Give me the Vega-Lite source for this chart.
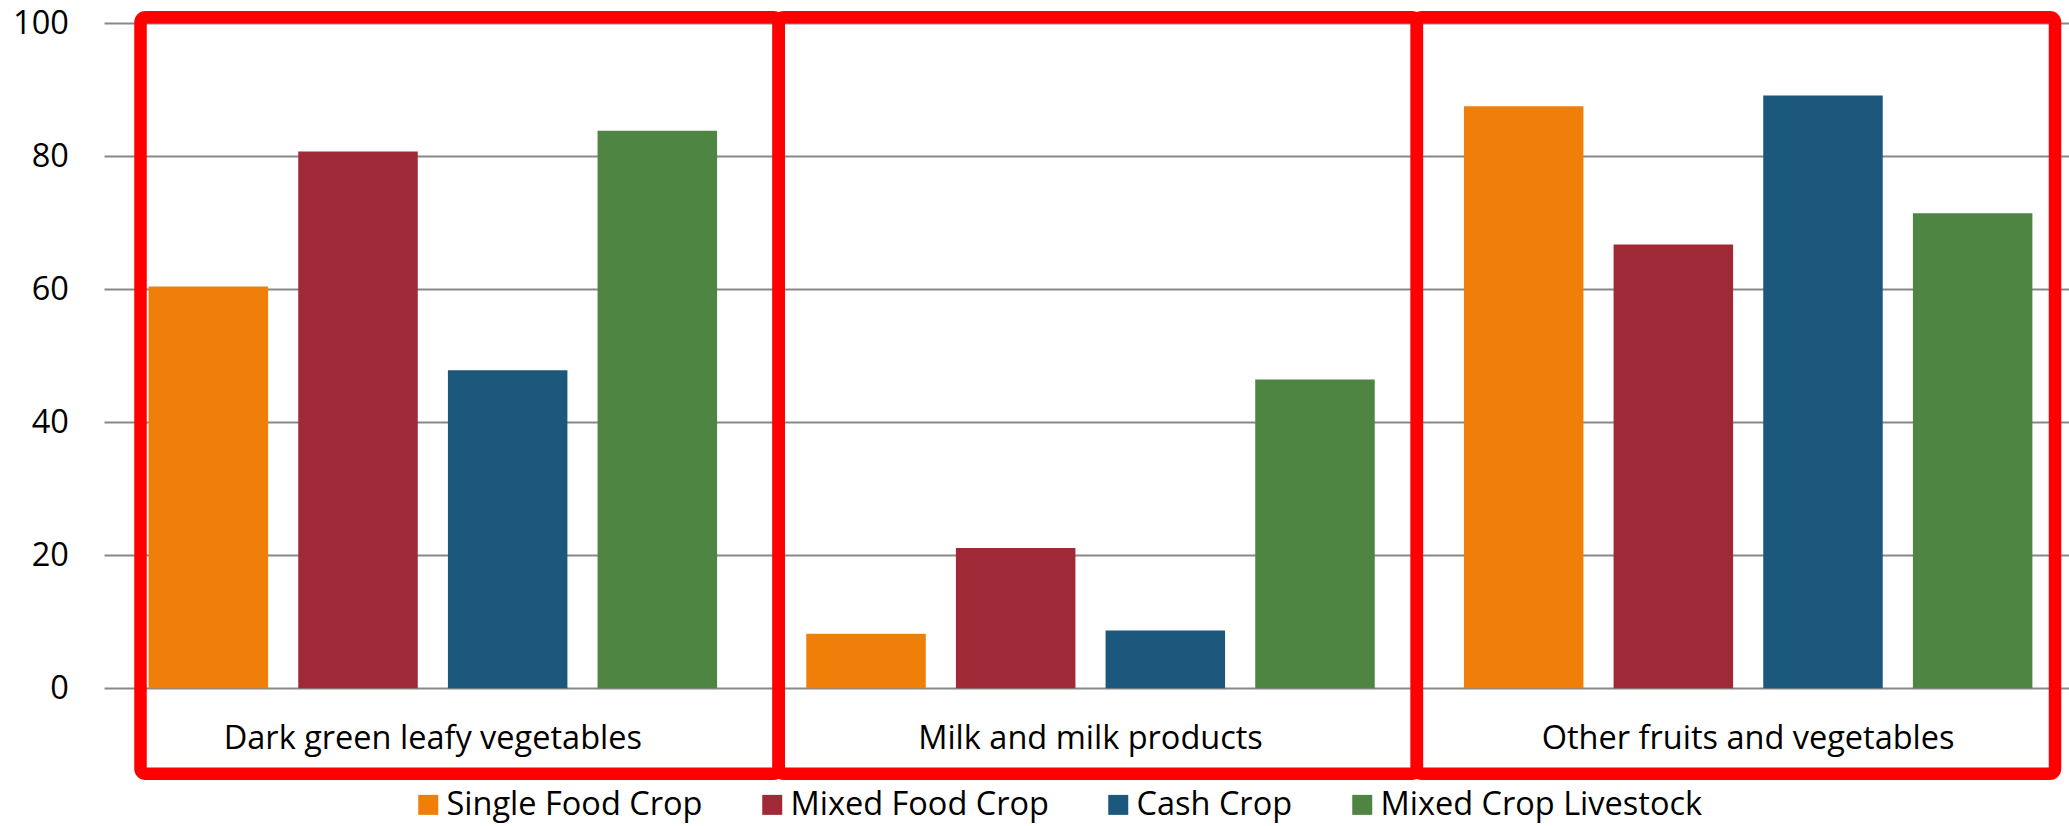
{
  "$schema": "https://vega.github.io/schema/vega-lite/v6.json",
  "autosize": "none",
  "width": 1965,
  "height": 665.3,
  "padding": {"left": 104, "top": 23, "right": 0, "bottom": 137.7},
  "background": "white",
  "config": {
    "view": {"stroke": null},
    "font": "Open Sans",
    "axis": {"labelFont": "Open Sans", "labelColor": "#000000"},
    "legend": {"labelFont": "Open Sans", "labelColor": "#000000"}
  },
  "datasets": {
    "bars": [
      {"category": "Dark green leafy vegetables", "type": "Single Food Crop", "value": 60.4},
      {"category": "Dark green leafy vegetables", "type": "Mixed Food Crop", "value": 80.7},
      {"category": "Dark green leafy vegetables", "type": "Cash Crop", "value": 47.8},
      {"category": "Dark green leafy vegetables", "type": "Mixed Crop Livestock", "value": 83.8},
      {"category": "Milk and milk products", "type": "Single Food Crop", "value": 8.2},
      {"category": "Milk and milk products", "type": "Mixed Food Crop", "value": 21.1},
      {"category": "Milk and milk products", "type": "Cash Crop", "value": 8.7},
      {"category": "Milk and milk products", "type": "Mixed Crop Livestock", "value": 46.4},
      {"category": "Other fruits and vegetables", "type": "Single Food Crop", "value": 87.5},
      {"category": "Other fruits and vegetables", "type": "Mixed Food Crop", "value": 66.7},
      {"category": "Other fruits and vegetables", "type": "Cash Crop", "value": 89.1},
      {"category": "Other fruits and vegetables", "type": "Mixed Crop Livestock", "value": 71.4}
    ],
    "boxes": [
      {"category": "Dark green leafy vegetables"},
      {"category": "Milk and milk products"},
      {"category": "Other fruits and vegetables"}
    ]
  },
  "layer": [
    {
      "data": {"name": "bars"},
      "mark": {"type": "bar"},
      "encoding": {
        "x": {
          "field": "category", "type": "nominal", "sort": null,
          "scale": {"range": [0, 1973], "paddingInner": 0, "paddingOuter": 0},
          "axis": {"title": null, "labelAngle": 0, "ticks": false, "domain": false, "grid": false, "labelFontSize": 32.5, "labelPadding": 34, "labelLimit": 0}
        },
        "xOffset": {
          "field": "type", "type": "nominal",
          "sort": ["Single Food Crop", "Mixed Food Crop", "Cash Crop", "Mixed Crop Livestock"],
          "scale": {"paddingInner": 0.2015, "paddingOuter": 0.298}
        },
        "y": {
          "field": "value", "type": "quantitative",
          "scale": {"domain": [0, 100], "nice": false},
          "axis": {"title": null, "values": [0, 20, 40, 60, 80, 100], "grid": true, "gridColor": "#888888", "gridWidth": 2, "ticks": false, "domain": false, "labelFontSize": 32.5, "labelPadding": 35.7}
        },
        "color": {
          "field": "type", "type": "nominal",
          "scale": {
            "domain": ["Single Food Crop", "Mixed Food Crop", "Cash Crop", "Mixed Crop Livestock"],
            "range": ["#F07F09", "#9F2936", "#1B587C", "#4E8542"]
          },
          "legend": {
            "title": null, "orient": "none", "direction": "horizontal",
            "legendX": 308, "legendY": 765.5, "padding": 0,
            "symbolType": "square", "symbolSize": 400, "symbolStrokeWidth": 0,
            "labelFontSize": 32.5, "labelOffset": 2, "columnPadding": 53, "labelLimit": 0
          }
        }
      }
    },
    {
      "data": {"name": "boxes"},
      "mark": {"type": "rect", "fillOpacity": 0, "stroke": "#FF0000", "strokeWidth": 12.5, "cornerRadius": 5},
      "encoding": {
        "x": {
          "field": "category", "type": "nominal", "sort": null,
          "scale": {"range": [36.5, 1951], "paddingInner": 0, "paddingOuter": 0},
          "axis": null
        },
        "y": {"datum": 100.86},
        "y2": {"datum": -12.85}
      }
    }
  ],
  "resolve": {"scale": {"x": "independent"}}
}
